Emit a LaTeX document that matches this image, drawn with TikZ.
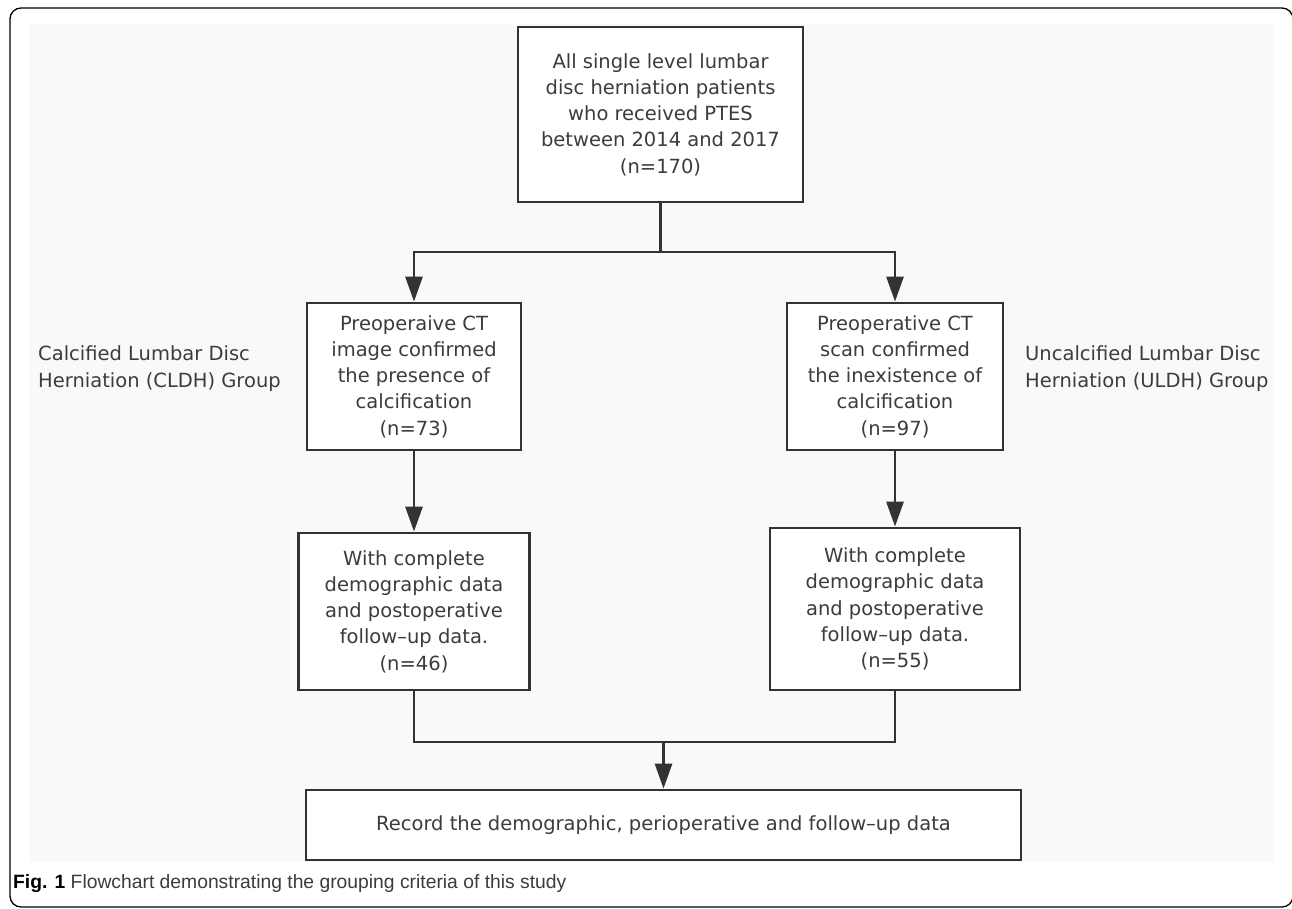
\documentclass[tikz,border=0pt]{standalone}
\usepackage{fontspec}
\setmainfont{DejaVu Sans}
\newfontfamily\capfont{Liberation Sans}
\usetikzlibrary{arrows.meta}
\definecolor{boxline}{HTML}{333333}
\definecolor{txtgray}{HTML}{3C3C3C}
\definecolor{panel}{HTML}{F9F9F9}
\tikzset{
  flowbox/.style={draw=boxline, line width=2.8pt, fill=white, align=center, inner sep=0pt,
    text=txtgray, font=\fontsize{19.5}{26.3}\selectfont},
  flowline/.style={draw=boxline, line width=2.8pt},
  flowarrow/.style={flowline, -{Triangle[width=17pt,length=25pt]}},
  grouplabel/.style={anchor=west, align=left, inner sep=0pt, text=txtgray,
    font=\fontsize{19.5}{27}\selectfont}
}
\begin{document}
\begin{tikzpicture}[x=1pt,y=-1pt]
  \useasboundingbox (0,0) rectangle (1292,908);
  \fill[white] (0,0) rectangle (1292,908);
  \draw[line width=1.3pt, rounded corners=11pt] (10,8) rectangle (1293,907);
  \fill[panel] (29,24) rectangle (1274,862);

  \node[flowbox, minimum width=285, minimum height=175] (all) at (660.5,114.5)
    {All single level lumbar\\disc herniation patients\\who received PTES\\between 2014 and 2017\\(n=170)};
  \node[flowbox, minimum width=214, minimum height=147] (cldh) at (414,376.5)
    {Preoperaive CT\\image confirmed\\the presence of\\calcification\\(n=73)};
  \node[flowbox, minimum width=216, minimum height=147] (uldh) at (895,376.5)
    {Preoperative CT\\scan confirmed\\the inexistence of\\calcification\\(n=97)};
  \node[flowbox, minimum width=231, minimum height=157] (cfull) at (414,611.5)
    {With complete\\demographic data\\and postoperative\\follow–up data.\\(n=46)};
  \node[flowbox, minimum width=250, minimum height=162] (ufull) at (895,609)
    {With complete\\demographic data\\and postoperative\\follow–up data.\\(n=55)};
  \node[flowbox, minimum width=715, minimum height=70] (record) at (663.5,825)
    {Record the demographic, perioperative and follow–up data};

  \node[grouplabel] (cldhlabel) at (38,368.5) {Calcified Lumbar Disc\\Herniation (CLDH) Group};
  \node[grouplabel] (uldhlabel) at (1025,368.5) {Uncalcified Lumbar Disc\\Herniation (ULDH) Group};

  \coordinate (split) at (660.5,252);
  \coordinate (join) at (663.5,742);
  \draw[flowline] (all.south) -- (split);
  \draw[flowarrow] (split) -| (cldh.north);
  \draw[flowarrow] (split) -| (uldh.north);
  \draw[flowarrow] (cldh.south) -- (cfull.north);
  \draw[flowarrow] (uldh.south) -- (ufull.north);
  \draw[flowline] (cfull.south) |- (join);
  \draw[flowline] (ufull.south) |- (join);
  \draw[flowarrow] (join) -- (record.north);

  \node[anchor=west, inner sep=0pt, font=\capfont\fontsize{19.3}{22}\selectfont] (caption) at (13,884)
    {\textbf{Fig. 1} {\color{txtgray}Flowchart demonstrating the grouping criteria of this study}};
\end{tikzpicture}
\end{document}
